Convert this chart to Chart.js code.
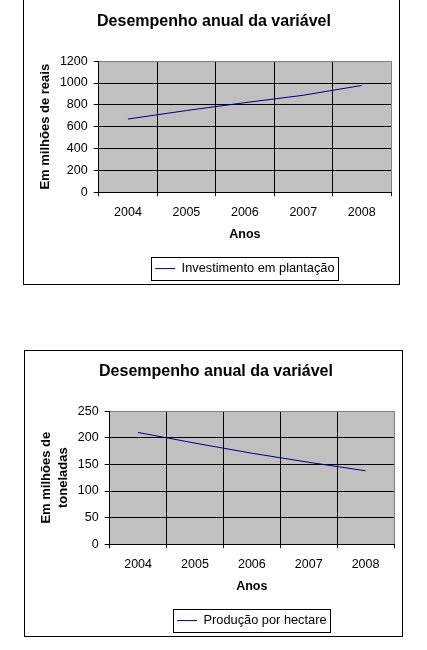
<!DOCTYPE html>
<html>
<head>
<meta charset="utf-8">
<script src="https://cdn.jsdelivr.net/npm/chart.js@4"></script>
<style>
  body { margin: 0; background: #fff; width: 427px; height: 650px; overflow: hidden; position: relative; }
  .box { position: absolute; border: 1px solid #000; background: #fff; }
  #b1 { left: 23px; top: -2px; width: 375px; height: 285px; }
  #b2 { left: 24px; top: 350px; width: 377px; height: 285px; }
  canvas { display: block; }
</style>
</head>
<body>
<div class="box" id="b1"><canvas id="c1"></canvas></div>
<div class="box" id="b2"><canvas id="c2"></canvas></div>
<script>
const anos = ['2004', '2005', '2006', '2007', '2008'];
const investimento = [670, 748, 820, 888, 978];
const producao = [210, 190, 171, 154, 138];
const ticksInvest = [0, 200, 400, 600, 800, 1000, 1200];
const ticksProd = [0, 50, 100, 150, 200, 250];

const FONT = 'Liberation Sans, Arial, sans-serif';
const LINE = '#000080';

// grey plot area like the old Excel charts
const plotBg = {
  id: 'plotBg',
  beforeDraw(chart) {
    const a = chart.chartArea, ctx = chart.ctx;
    ctx.save();
    ctx.fillStyle = '#c0c0c0';
    ctx.fillRect(a.left, a.top, a.right - a.left, a.bottom - a.top);
    ctx.restore();
  }
};

// frame around the legend
const legendBox = {
  id: 'legendBox',
  afterDraw(chart) {
    const h = chart.legend.legendHitBoxes[0];
    if (!h) return;
    const ctx = chart.ctx;
    ctx.save();
    ctx.strokeStyle = '#000';
    ctx.lineWidth = 1;
    ctx.strokeRect(Math.round(h.left - 4) + 0.5, Math.round(h.top - 5) + 0.5,
                   Math.round(h.width + 8), Math.round(h.height + 10));
    ctx.restore();
  }
};

function makeChart(id, values, label, yTicks, yTitle, topPad) {
  const yMax = yTicks[yTicks.length - 1];
  return new Chart(document.getElementById(id), {
    type: 'line',
    data: {
      labels: anos,
      datasets: [{
        label: label,
        data: values,
        borderColor: LINE,
        backgroundColor: LINE,
        borderWidth: 1,
        pointRadius: 0,
        tension: 0
      }]
    },
    options: {
      responsive: true,
      maintainAspectRatio: false,
      animation: false,
      layout: { padding: { left: 13, right: 8, top: 0, bottom: -1 } },
      plugins: {
        title: {
          display: true,
          text: 'Desempenho anual da variável',
          color: '#000',
          font: { family: FONT, size: 16, weight: 'bold' },
          padding: { top: topPad, bottom: 30 }
        },
        legend: {
          position: 'bottom',
          fullSize: false,
          labels: {
            usePointStyle: true,
            pointStyle: 'line',
            pointStyleWidth: 20,
            boxHeight: 13,
            color: '#000',
            font: { family: FONT, size: 12.8 },
            padding: 7
          }
        },
        tooltip: { enabled: false }
      },
      scales: {
        x: {
          offset: true,
          grid: {
            offset: true,
            color: ctx => ctx.tick ? '#000' : '#808080',
            tickColor: '#000',
            tickLength: 4
          },
          border: { color: '#000' },
          ticks: { color: '#000', font: { family: FONT, size: 12.5 }, padding: 9, maxRotation: 0 },
          title: {
            display: true,
            text: 'Anos',
            color: '#000',
            font: { family: FONT, size: 12.5, weight: 'bold' },
            padding: { top: -2.5, bottom: 13.5 }
          }
        },
        y: {
          min: yTicks[0],
          max: yMax,
          ticks: {
            stepSize: yTicks[1] - yTicks[0],
            color: '#000',
            font: { family: FONT, size: 12.5 },
            padding: 6,
            callback: v => String(v)
          },
          grid: {
            color: ctx => (ctx.tick && ctx.tick.value === yMax) ? '#808080' : '#000',
            tickColor: '#000',
            tickLength: 5
          },
          border: { color: '#000' },
          title: {
            display: true,
            text: yTitle,
            color: '#000',
            font: { family: FONT, size: 13, weight: 'bold', lineHeight: 1.3 },
            padding: { top: 0, bottom: 0 }
          }
        }
      }
    },
    plugins: [plotBg, legendBox]
  });
}

makeChart('c1', investimento, 'Investimento em plantação', ticksInvest, 'Em milhões de reais', 13);
makeChart('c2', producao, 'Produção por hectare', ticksProd, ['Em milhões de', 'toneladas'], 11);
</script>
</body>
</html>
